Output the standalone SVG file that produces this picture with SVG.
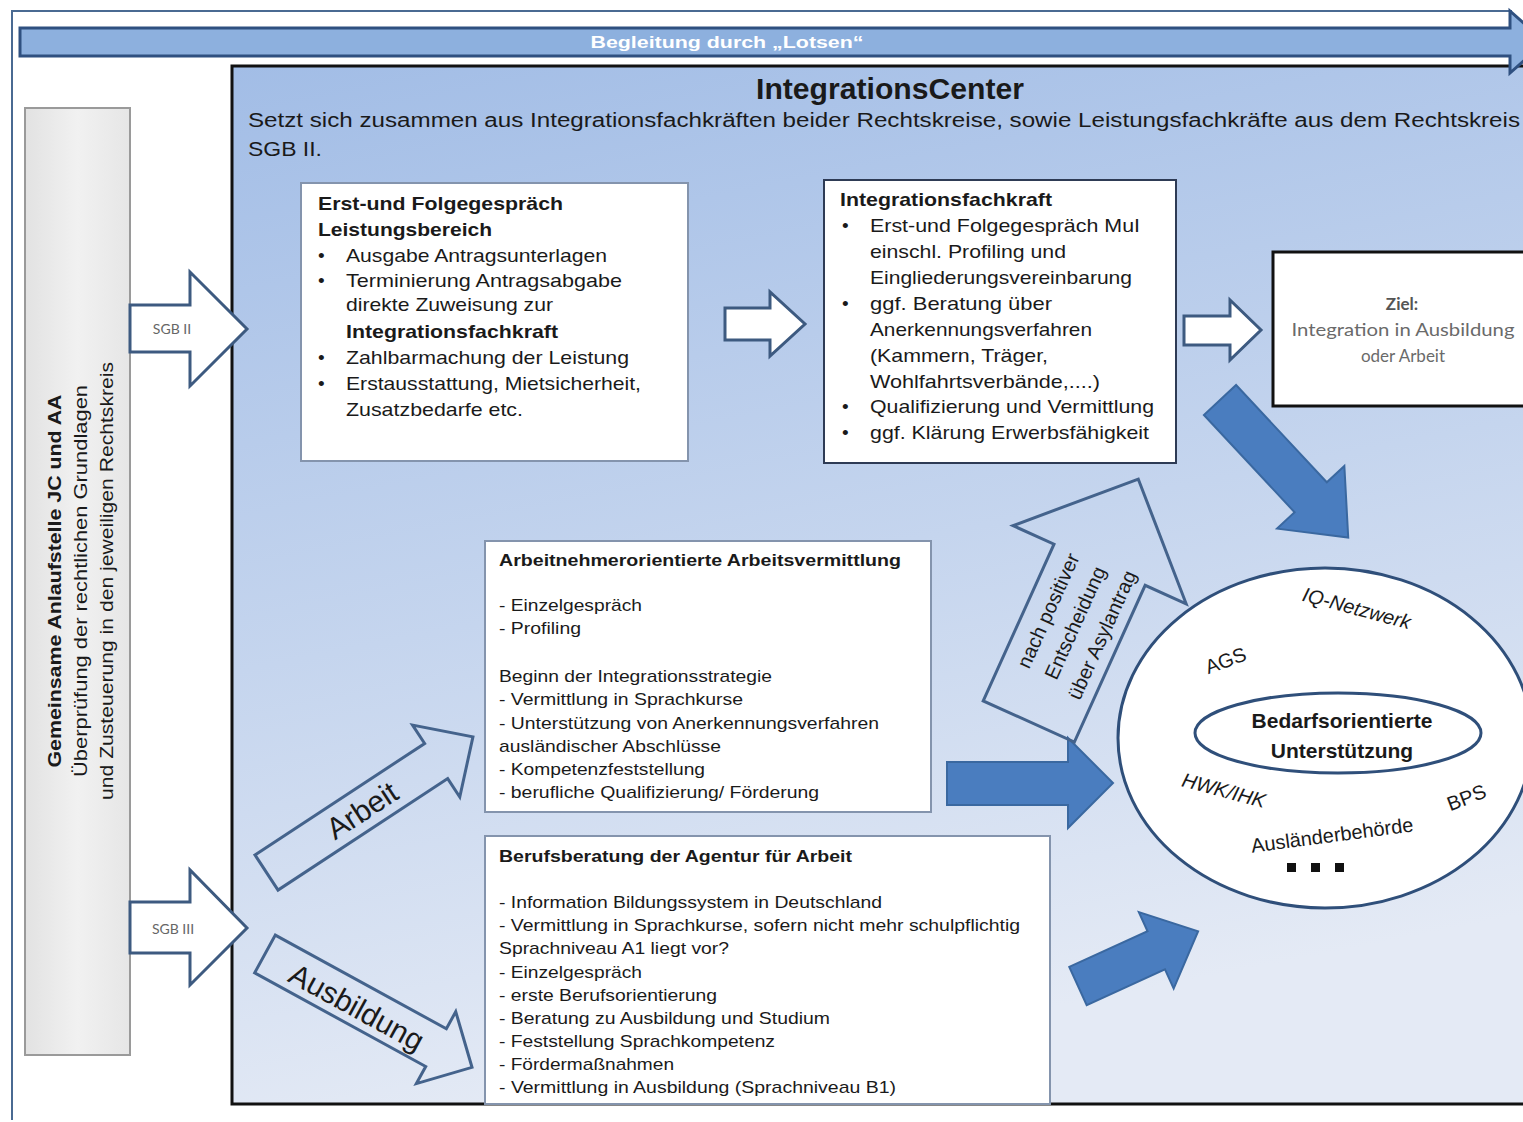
<svg xmlns="http://www.w3.org/2000/svg" width="1523" height="1122" viewBox="0 0 1523 1122">
<defs>
<linearGradient id="icg" x1="0" y1="0" x2="0.25" y2="1">
<stop offset="0" stop-color="#a2bde6"/>
<stop offset="0.55" stop-color="#c5d5ee"/>
<stop offset="1" stop-color="#e4eaf5"/>
</linearGradient>
<linearGradient id="grayg" x1="0" y1="0" x2="1" y2="0">
<stop offset="0" stop-color="#e2e2e2"/>
<stop offset="0.5" stop-color="#f1f1f1"/>
<stop offset="1" stop-color="#e6e6e6"/>
</linearGradient>
<style>
.t{font-family:"Liberation Sans",Arial,sans-serif;fill:#1a1a1a}
.b{font-weight:bold}
.bx{font-size:19px}
.sm{font-size:17px}
.lato{font-family:Lato,"Open Sans",sans-serif}
.box{fill:#ffffff;stroke:#8494ad;stroke-width:2}
.warr{fill:#ffffff;stroke:#3d5a80;stroke-width:3;stroke-linejoin:miter}
.oarr{fill:none;stroke:#44638c;stroke-width:3;stroke-linejoin:miter}
.barr{fill:#4a7dbf;stroke:#3a68a0;stroke-width:2}
.cl{font-family:"Liberation Sans",Arial,sans-serif;font-size:20px;fill:#1a1a1a}
</style>
</defs>
<rect width="1523" height="1122" fill="#ffffff"/>
<!-- outer frame lines -->
<path d="M12,1120 L12,11 L1512,11" fill="none" stroke="#4a6a92" stroke-width="2"/>

<g id="integrationscenter">
<rect x="232" y="66" width="1320" height="1038" fill="url(#icg)" stroke="#111111" stroke-width="3"/>
<text class="t b" x="890" y="99" font-size="29" text-anchor="middle" textLength="268" lengthAdjust="spacingAndGlyphs">IntegrationsCenter</text>
<text class="t" x="248" y="127" font-size="20" textLength="1272" lengthAdjust="spacingAndGlyphs">Setzt sich zusammen aus Integrationsfachkräften beider Rechtskreise, sowie Leistungsfachkräfte aus dem Rechtskreis</text>
<text class="t" x="248" y="156" font-size="20" textLength="74" lengthAdjust="spacingAndGlyphs">SGB II.</text>
</g>

<g id="lotsen">
<polygon points="20,28 1510,28 1510,11 1545,42 1510,73 1510,56 20,56" fill="#8db0de" stroke="#2f5080" stroke-width="3"/>
<text class="t b" x="727" y="48" font-size="17" fill="#ffffff" style="fill:#ffffff" text-anchor="middle" textLength="273" lengthAdjust="spacingAndGlyphs">Begleitung durch „Lotsen“</text>
</g>

<g id="anlaufstelle">
<rect x="25" y="108" width="105" height="947" fill="url(#grayg)" stroke="#9a9a9a" stroke-width="2"/>
<text class="t b" transform="translate(61,581) rotate(-90)" font-size="19" text-anchor="middle" textLength="373" lengthAdjust="spacingAndGlyphs">Gemeinsame Anlaufstelle  JC und AA</text>
<text class="t" transform="translate(87,581) rotate(-90)" font-size="19" text-anchor="middle" textLength="392" lengthAdjust="spacingAndGlyphs">Überprüfung der rechtlichen  Grundlagen</text>
<text class="t" transform="translate(113,581) rotate(-90)" font-size="19" text-anchor="middle" textLength="438" lengthAdjust="spacingAndGlyphs">und Zusteuerung in den jeweiligen Rechtskreis</text>
</g>

<g id="connectors">
<g id="sgb2">
<polygon class="warr" points="130,305 190,305 190,272 247,329 190,386 190,352 130,352"/>
<text class="lato" x="172" y="334" font-size="14" fill="#666666" text-anchor="middle">SGB II</text>
</g>
<g id="sgb3">
<polygon class="warr" points="130,902 190,902 190,870 247,928 190,985 190,953 130,953"/>
<text class="lato" x="173" y="934" font-size="14" fill="#666666" text-anchor="middle">SGB III</text>
</g>
<polygon class="warr" points="725,308 770,308 770,292 805,324 770,356 770,340 725,340"/>
<polygon class="warr" points="1184,316 1230,316 1230,300 1261,330 1230,360 1230,345 1184,345"/>
<path class="barr" transform="translate(1220,400) rotate(47)" d="M0,-22 L133,-22 L133,-46 L188,0 L133,46 L133,22 L0,22 Z"/>
<polygon class="barr" points="947,762 1068,762 1068,738 1113,783 1068,828 1068,805 947,805"/>
<path class="barr" transform="translate(1078,986) rotate(-24.5)" d="M0,-21 L86,-21 L86,-42 L132,0 L86,42 L86,21 L0,21 Z"/>
<g id="arbeit" transform="translate(266.5,872.5) rotate(-33.3)">
<path class="oarr" d="M0,-21 L203,-21 L203,-43 L247,0 L203,43 L203,21 L0,21 Z"/>
<text class="t" x="114" y="11" font-size="30" text-anchor="middle">Arbeit</text>
</g>
<g id="ausbildung" transform="translate(265,954) rotate(28.7)">
<path class="oarr" d="M0,-21.5 L195,-21.5 L195,-41 L236,0 L195,41 L195,21.5 L0,21.5 Z"/>
<text class="t" x="106" y="13" font-size="30" text-anchor="middle">Ausbildung</text>
</g>
<g id="asyl" transform="translate(1028.8,721.5) rotate(-65.7)">
<path class="oarr" d="M0,-50 L172,-50 L172,-95 L266,0 L172,95 L172,50 L0,50 Z"/>
<text class="t" x="109" y="-21" font-size="20" text-anchor="middle">nach positiver</text>
<text class="t" x="109" y="8.5" font-size="20" text-anchor="middle">Entscheidung</text>
<text class="t" x="109" y="38" font-size="20" text-anchor="middle">über Asylantrag</text>
</g>
</g>

<g id="leistungsbereich">
<rect class="box" x="301" y="183" width="387" height="278"/>
<g class="t bx">
<text class="b" x="318" y="210" textLength="245" lengthAdjust="spacingAndGlyphs">Erst-und Folgegespräch</text>
<text class="b" x="318" y="236" textLength="174" lengthAdjust="spacingAndGlyphs">Leistungsbereich</text>
<text x="318" y="262">•</text>
<text x="346" y="262" textLength="261" lengthAdjust="spacingAndGlyphs">Ausgabe Antragsunterlagen</text>
<text x="318" y="287">•</text>
<text x="346" y="287" textLength="276" lengthAdjust="spacingAndGlyphs">Terminierung  Antragsabgabe</text>
<text x="346" y="311" textLength="207" lengthAdjust="spacingAndGlyphs">direkte Zuweisung zur</text>
<text class="b" x="346" y="338" textLength="212" lengthAdjust="spacingAndGlyphs">Integrationsfachkraft</text>
<text x="318" y="364">•</text>
<text x="346" y="364" textLength="283" lengthAdjust="spacingAndGlyphs">Zahlbarmachung  der Leistung</text>
<text x="318" y="390">•</text>
<text x="346" y="390" textLength="295" lengthAdjust="spacingAndGlyphs">Erstausstattung, Mietsicherheit,</text>
<text x="346" y="416" textLength="177" lengthAdjust="spacingAndGlyphs">Zusatzbedarfe etc.</text>
</g>
</g>

<g id="integrationsfachkraft">
<rect x="824" y="180" width="352" height="283" fill="#ffffff" stroke="#2e3b55" stroke-width="2"/>
<g class="t bx">
<text class="b" x="840" y="206" textLength="212" lengthAdjust="spacingAndGlyphs">Integrationsfachkraft</text>
<text x="842" y="232">•</text>
<text x="870" y="232" textLength="270" lengthAdjust="spacingAndGlyphs">Erst-und Folgegespräch MuI</text>
<text x="870" y="258" textLength="196" lengthAdjust="spacingAndGlyphs">einschl.  Profiling und</text>
<text x="870" y="284" textLength="262" lengthAdjust="spacingAndGlyphs">Eingliederungsvereinbarung</text>
<text x="842" y="310">•</text>
<text x="870" y="310" textLength="182" lengthAdjust="spacingAndGlyphs">ggf.  Beratung über</text>
<text x="870" y="336" textLength="222" lengthAdjust="spacingAndGlyphs">Anerkennungsverfahren</text>
<text x="870" y="362" textLength="178" lengthAdjust="spacingAndGlyphs">(Kammern, Träger,</text>
<text x="870" y="388" textLength="230" lengthAdjust="spacingAndGlyphs">Wohlfahrtsverbände,....)</text>
<text x="842" y="413">•</text>
<text x="870" y="413" textLength="284" lengthAdjust="spacingAndGlyphs">Qualifizierung  und Vermittlung</text>
<text x="842" y="439">•</text>
<text x="870" y="439" textLength="279" lengthAdjust="spacingAndGlyphs">ggf. Klärung  Erwerbsfähigkeit</text>
</g>
</g>

<g id="ziel">
<rect x="1273" y="252" width="270" height="154" fill="#ffffff" stroke="#111111" stroke-width="3"/>
<text class="lato" x="1402" y="310" font-size="17" font-weight="bold" fill="#555555" text-anchor="middle">Ziel:</text>
<text class="lato" x="1403" y="336" font-size="17" fill="#6a6a6a" text-anchor="middle" textLength="223" lengthAdjust="spacingAndGlyphs">Integration in Ausbildung</text>
<text class="lato" x="1403" y="362" font-size="17" fill="#6a6a6a" text-anchor="middle">oder Arbeit</text>
</g>

<g id="arbeitsvermittlung">
<rect class="box" x="485" y="541" width="446" height="271"/>
<g class="t sm">
<text class="b" x="499" y="566" textLength="402" lengthAdjust="spacingAndGlyphs">Arbeitnehmerorientierte Arbeitsvermittlung</text>
<text x="499" y="611" textLength="143" lengthAdjust="spacingAndGlyphs">- Einzelgespräch</text>
<text x="499" y="634" textLength="82" lengthAdjust="spacingAndGlyphs">- Profiling</text>
<text x="499" y="682" textLength="273" lengthAdjust="spacingAndGlyphs">Beginn der Integrationsstrategie</text>
<text x="499" y="705" textLength="244" lengthAdjust="spacingAndGlyphs">- Vermittlung  in Sprachkurse</text>
<text x="499" y="729" textLength="380" lengthAdjust="spacingAndGlyphs">- Unterstützung von Anerkennungsverfahren</text>
<text x="499" y="752" textLength="222" lengthAdjust="spacingAndGlyphs">ausländischer Abschlüsse</text>
<text x="499" y="775" textLength="206" lengthAdjust="spacingAndGlyphs">- Kompetenzfeststellung</text>
<text x="499" y="798" textLength="320" lengthAdjust="spacingAndGlyphs">- berufliche Qualifizierung/ Förderung</text>
</g>
</g>

<g id="berufsberatung">
<rect class="box" x="485" y="836" width="565" height="268"/>
<g class="t sm">
<text class="b" x="499" y="862" textLength="353" lengthAdjust="spacingAndGlyphs">Berufsberatung der Agentur für Arbeit</text>
<text x="499" y="908" textLength="383" lengthAdjust="spacingAndGlyphs">- Information  Bildungssystem in Deutschland</text>
<text x="499" y="931" textLength="521" lengthAdjust="spacingAndGlyphs">- Vermittlung  in Sprachkurse, sofern nicht mehr schulpflichtig</text>
<text x="499" y="954" textLength="230" lengthAdjust="spacingAndGlyphs">Sprachniveau A1 liegt vor?</text>
<text x="499" y="978" textLength="143" lengthAdjust="spacingAndGlyphs">- Einzelgespräch</text>
<text x="499" y="1001" textLength="218" lengthAdjust="spacingAndGlyphs">- erste Berufsorientierung</text>
<text x="499" y="1024" textLength="331" lengthAdjust="spacingAndGlyphs">- Beratung zu Ausbildung und Studium</text>
<text x="499" y="1047" textLength="276" lengthAdjust="spacingAndGlyphs">- Feststellung Sprachkompetenz</text>
<text x="499" y="1070" textLength="175" lengthAdjust="spacingAndGlyphs">- Fördermaßnahmen</text>
<text x="499" y="1093" textLength="397" lengthAdjust="spacingAndGlyphs">- Vermittlung  in Ausbildung (Sprachniveau B1)</text>
</g>
</g>

<g id="netzwerk">
<ellipse cx="1325" cy="738" rx="207" ry="170" fill="#ffffff" stroke="#2f4f7a" stroke-width="3"/>
<ellipse cx="1338" cy="733" rx="143" ry="40" fill="#ffffff" stroke="#2f4f7a" stroke-width="3"/>
<text class="t b" x="1342" y="728" font-size="21" text-anchor="middle">Bedarfsorientierte</text>
<text class="t b" x="1342" y="758" font-size="21" text-anchor="middle">Unterstützung</text>
<text class="cl" transform="translate(1355,615) rotate(15)" text-anchor="middle" font-style="italic">IQ-Netzwerk</text>
<text class="cl" transform="translate(1228,667) rotate(-20)" text-anchor="middle">AGS</text>
<text class="cl" transform="translate(1222,797) rotate(15)" text-anchor="middle" font-style="italic">HWK/IHK</text>
<text class="cl" transform="translate(1469,804) rotate(-21)" text-anchor="middle">BPS</text>
<text class="cl" transform="translate(1333,842) rotate(-7.5)" text-anchor="middle">Ausländerbehörde</text>
<rect x="1287" y="863" width="9" height="9" fill="#111111"/>
<rect x="1311" y="863" width="9" height="9" fill="#111111"/>
<rect x="1335" y="863" width="9" height="9" fill="#111111"/>
</g>
</svg>
